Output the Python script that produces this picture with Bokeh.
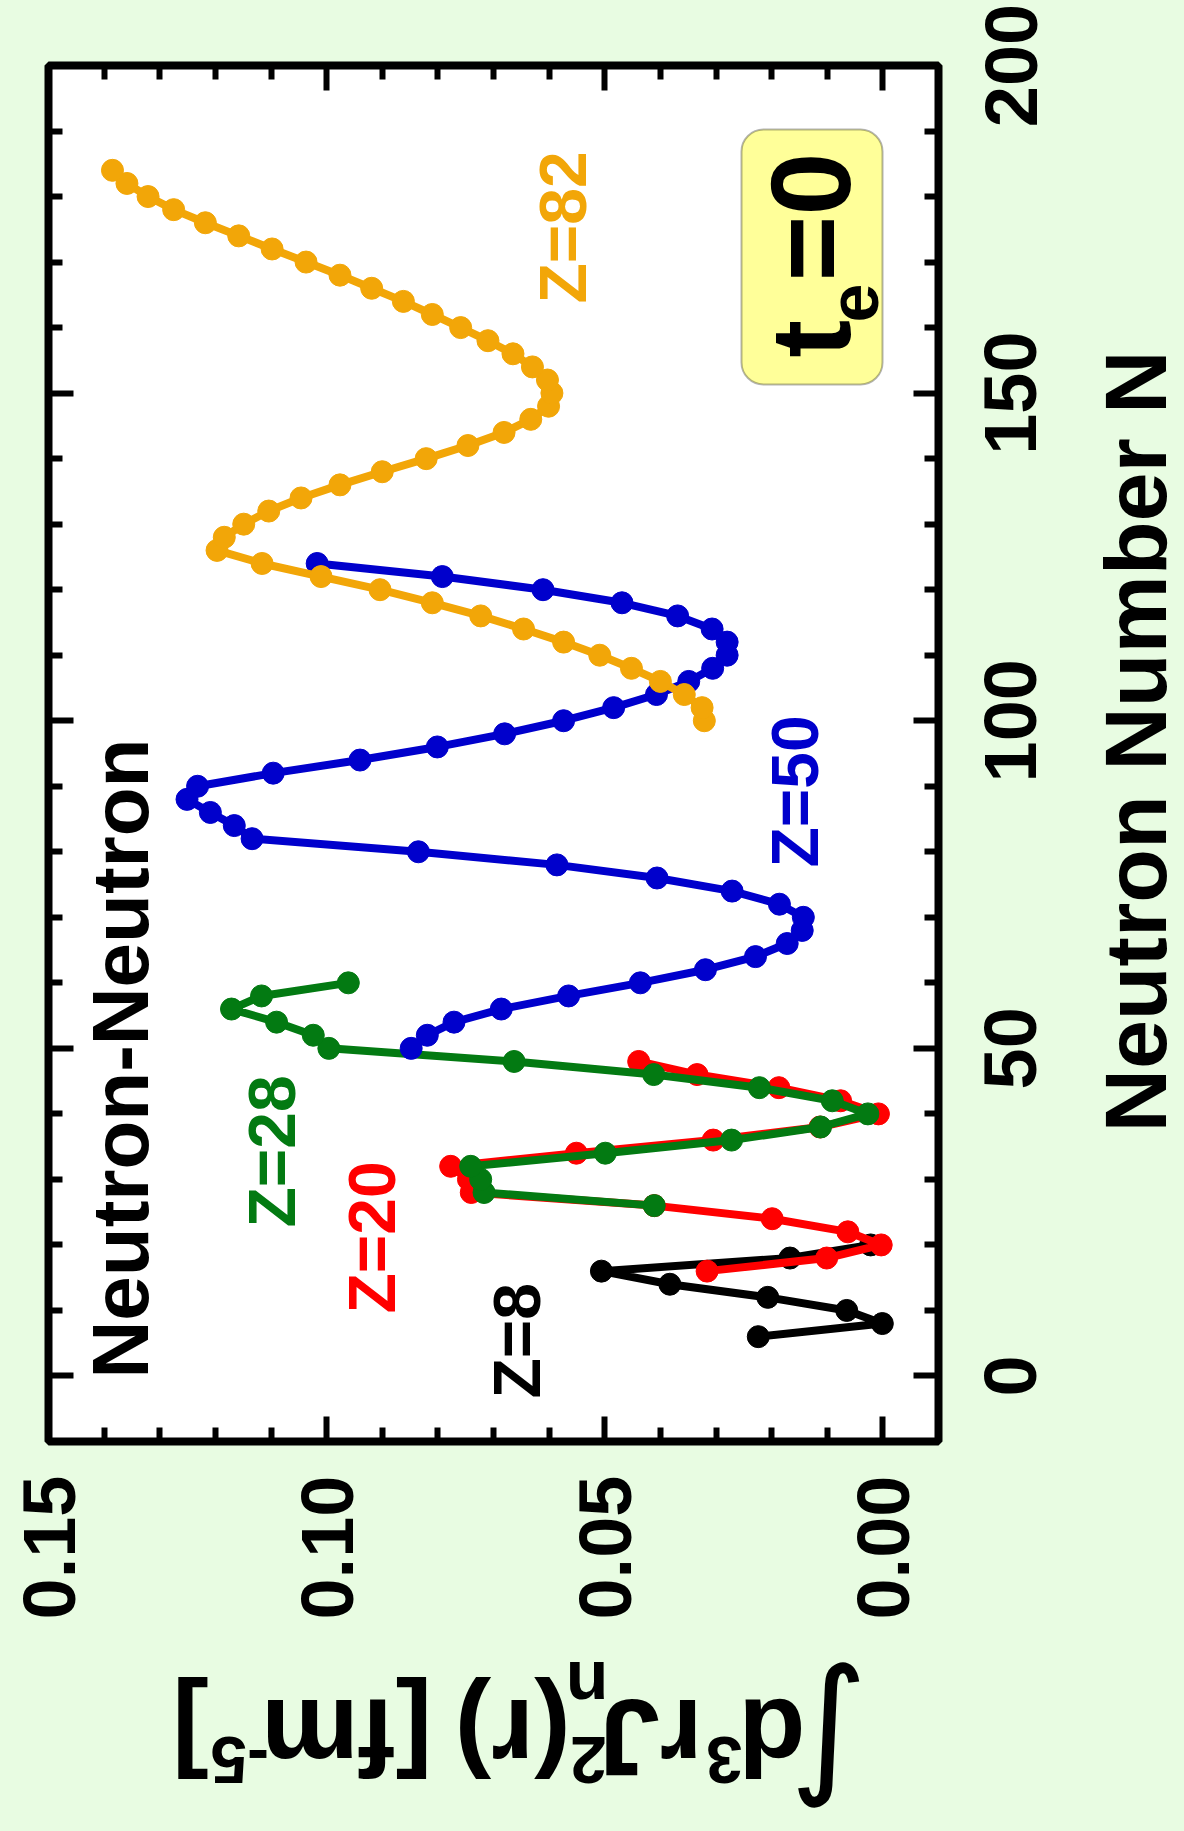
import math
from bokeh.plotting import figure
from bokeh.models import (Range1d, LinearAxis, FixedTicker, NumeralTickFormatter,
                          CustomJSTickFormatter, Label, BoxAnnotation)
from bokeh.layouts import row, column
from bokeh.embed import file_html
from bokeh.resources import INLINE

# ---------------- data (N, integral value) ----------------
N_z8 = [6, 8, 10, 12, 14, 16, 18, 20]
J_z8 = [0.0224, 0.0001, 0.0065, 0.0207, 0.0383, 0.0506, 0.0167, 0.0022]

N_z20 = [16, 18, 20, 22, 24, 26, 28, 30, 32, 34, 36, 38, 40, 42, 44, 46, 48]
J_z20 = [0.0316, 0.0101, 0.0003, 0.0063, 0.0199, 0.0411, 0.0740, 0.0745, 0.0777,
         0.0551, 0.0305, 0.0113, 0.0008, 0.0076, 0.0187, 0.0334, 0.0439]

N_z28 = [26, 28, 30, 32, 34, 36, 38, 40, 42, 44, 46, 48, 50, 52, 54, 56, 58, 60]
J_z28 = [0.0411, 0.0717, 0.0723, 0.0741, 0.0499, 0.0272, 0.0112, 0.0027, 0.0091,
         0.0222, 0.0412, 0.0663, 0.0996, 0.1024, 0.1090, 0.1171, 0.1117, 0.0961]

N_z50 = list(range(50, 126, 2))
J_z50 = [0.0848, 0.0819, 0.0771, 0.0686, 0.0565, 0.0436, 0.0319, 0.0229, 0.0172,
         0.0145, 0.0143, 0.0186, 0.0271, 0.0406, 0.0586, 0.0835, 0.1134, 0.1166,
         0.1209, 0.1251, 0.1232, 0.1096, 0.0940, 0.0801, 0.0680, 0.0574, 0.0484,
         0.0407, 0.0349, 0.0306, 0.0280, 0.0280, 0.0307, 0.0369, 0.0469, 0.0611,
         0.0792, 0.1017]

N_z82 = list(range(100, 186, 2))
J_z82 = [0.0321, 0.0325, 0.0357, 0.0400, 0.0452, 0.0509, 0.0574, 0.0646, 0.0723,
         0.0810, 0.0904, 0.1010, 0.1116, 0.1197, 0.1184, 0.1149, 0.1104, 0.1046,
         0.0976, 0.0900, 0.0821, 0.0746, 0.0681, 0.0633, 0.0601, 0.0595, 0.0603,
         0.0630, 0.0665, 0.0710, 0.0759, 0.0810, 0.0862, 0.0919, 0.0976, 0.1037,
         0.1098, 0.1158, 0.1218, 0.1275, 0.1321, 0.1359, 0.1385]

series_names = ["Z=8", "Z=20", "Z=28", "Z=50", "Z=82"]
series_colors = ["#000000", "#ff0000", "#037a12", "#0000cc", "#f2a608"]
series_N = [N_z8, N_z20, N_z28, N_z50, N_z82]
series_J = [J_z8, J_z20, J_z28, J_z50, J_z82]

x_ticks = [0.0, 0.05, 0.10, 0.15]
x_minor = [-0.01, 0.01, 0.02, 0.03, 0.04, 0.06, 0.07, 0.08, 0.09, 0.11, 0.12, 0.13, 0.14]
n_ticks = [0, 50, 100, 150, 200]
n_minor = [-10, 10, 20, 30, 40, 60, 70, 80, 90, 110, 120, 130, 140, 160, 170, 180, 190]

x_title = "Neutron Number N"
panel_title = "Neutron-Neutron"

# ---------------- layout ----------------
W, H = 1184, 1831
FL, FR, FT, FB = 48, 938, 65, 1441  # frame edges in px
XMAX, XMIN = 0.15, -0.01           # value axis (reversed, horizontal)
YMIN, YMAX = -10, 200              # N axis (vertical)
PW = 944        # width of main figure
PH = 1640       # height of main figure
PR_FRAME_L = 1042

def dx(px):
    return XMAX - (px - FL) / (FR - FL) * (XMAX - XMIN)

def dy(py):
    return YMAX - (py - FT) / (FB - FT) * (YMAX - YMIN)

BG = "#e8fce2"
FONT = "Liberation Sans"
BLANK = CustomJSTickFormatter(code="return ''")

p = figure(width=PW, height=PH, x_range=Range1d(XMAX, XMIN), y_range=Range1d(YMIN, YMAX),
           x_axis_location="below", y_axis_location="right",
           output_backend="svg", toolbar_location=None, title=None,
           min_border_left=FL, min_border_right=PW - FR,
           min_border_top=FT, min_border_bottom=PH - FB)
p.border_fill_color = BG
p.background_fill_color = "white"
p.outline_line_color = "black"
p.outline_line_width = 8
p.xgrid.visible = False
p.ygrid.visible = False

def style_axis(ax, show_labels):
    ax.axis_line_color = None
    ax.major_tick_in = 25
    ax.major_tick_out = 0
    ax.minor_tick_in = 14
    ax.minor_tick_out = 0
    ax.major_tick_line_width = 6
    ax.minor_tick_line_width = 6
    ax.major_tick_line_color = "black"
    ax.minor_tick_line_color = "black"
    if show_labels:
        ax.major_label_text_font = FONT
        ax.major_label_text_font_style = "bold"
        ax.major_label_text_font_size = "74px"
        ax.major_label_text_color = "black"
        ax.major_label_orientation = math.pi / 2
    else:
        ax.formatter = BLANK
        ax.major_label_standoff = 0

xa = p.xaxis[0]
xa.ticker = FixedTicker(ticks=x_ticks, minor_ticks=x_minor)
xa.formatter = NumeralTickFormatter(format="0.00")
style_axis(xa, True)
xa.major_label_standoff = 34

ya = p.yaxis[0]
ya.ticker = FixedTicker(ticks=n_ticks, minor_ticks=n_minor)
style_axis(ya, False)

top_ax = LinearAxis(ticker=FixedTicker(ticks=x_ticks, minor_ticks=x_minor))
style_axis(top_ax, False)
p.add_layout(top_ax, "above")
left_ax = LinearAxis(ticker=FixedTicker(ticks=n_ticks, minor_ticks=n_minor))
style_axis(left_ax, False)
p.add_layout(left_ax, "left")

# ---------------- series ----------------
for Ns, Js, col in zip(series_N, series_J, series_colors):
    p.line(Js, Ns, line_color=col, line_width=8)
    p.scatter(Js, Ns, size=22, fill_color=col, line_color=col, marker="circle")

# ---------------- texts inside the frame ----------------
def add_label(fig, text, x, y, size, color="black", align="left", angle=math.pi / 2,
              style="bold", font=FONT):
    fig.add_layout(Label(x=x, y=y, text=text, angle=angle,
                         text_font=font, text_font_style=style,
                         text_font_size=f"{size}px", text_color=color,
                         text_align=align, text_baseline="alphabetic"))

label_pos = [(516, 1398), (371, 1313), (271, 1227), (794, 867), (562, 303)]
for name, col, (lx, ly) in zip(series_names, series_colors, label_pos):
    add_label(p, name, dx(lx), dy(ly), 66, color=col)

add_label(p, panel_title, dx(120), dy(1378), 80)

p.add_layout(BoxAnnotation(left=dx(741), right=dx(882), top=dy(129), bottom=dy(384),
                           fill_color="#ffff99", fill_alpha=1.0, line_color="black",
                           line_width=2, border_radius=22))
add_label(p, "t", dx(810), dy(357), 113)
add_label(p, "e", dx(853), dy(322), 70)
add_label(p, "=0", dx(810), dy(281), 113)

# ---------------- right strip: N tick labels and axis title ----------------
pr = figure(width=W - PW, height=H, x_range=Range1d(PR_FRAME_L, W),
            y_range=Range1d(dy(H), dy(0)), x_axis_location=None, y_axis_location="left",
            output_backend="svg", toolbar_location=None, title=None,
            min_border_left=PR_FRAME_L - PW, min_border_right=0,
            min_border_top=0, min_border_bottom=0)
pr.border_fill_color = BG
pr.background_fill_color = BG
pr.outline_line_color = None
pr.xgrid.visible = False
pr.ygrid.visible = False
ra = pr.yaxis[0]
ra.ticker = FixedTicker(ticks=n_ticks, minor_ticks=[])
ra.axis_line_color = None
ra.major_tick_line_color = None
ra.minor_tick_line_color = None
ra.major_tick_in = 0
ra.major_tick_out = 0
ra.minor_tick_in = 0
ra.minor_tick_out = 0
ra.major_label_orientation = "vertical"
ra.major_label_standoff = 6
ra.major_label_text_font = FONT
ra.major_label_text_font_style = "bold"
ra.major_label_text_font_size = "74px"
ra.major_label_text_color = "black"

add_label(pr, x_title, 1135, dy(741), 88, align="center")

# ---------------- bottom strip: value axis title (upside down) ----------------
BH = H - PH
pb = figure(width=PW, height=BH, x_range=Range1d(0, PW), y_range=Range1d(BH, 0),
            x_axis_location=None, y_axis_location=None,
            output_backend="svg", toolbar_location=None, title=None,
            min_border_left=0, min_border_right=0, min_border_top=0, min_border_bottom=0)
pb.border_fill_color = BG
pb.background_fill_color = BG
pb.outline_line_color = None
pb.xgrid.visible = False
pb.ygrid.visible = False

PI = math.pi
def blabel(text, x, y, size, style="bold", font=FONT):
    add_label(pb, text, x, y - PH, size, angle=PI, style=style, font=font)

blabel("\u222b", 869, 1745, 150, style="normal", font="DejaVu Sans")
blabel("d", 803, 1738, 110)
blabel("3", 736, 1759, 66)
blabel("rJ", 694, 1738, 110)
blabel("2", 592, 1759, 66)
blabel("n", 594, 1685, 70)
blabel("(r)", 554, 1738, 110)
blabel("[fm", 407, 1738, 110)
blabel("-5", 234, 1759, 66)
blabel("]", 170, 1738, 110)

layout = row(column(p, pb, styles={"background-color": BG}), pr,
             styles={"background-color": BG})
open("out.html", "w").write(file_html(layout, INLINE))
